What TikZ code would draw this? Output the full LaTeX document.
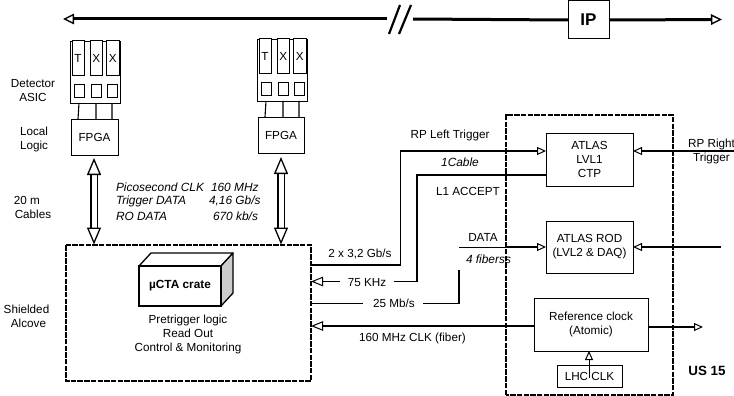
\documentclass[tikz,border=0pt]{standalone}
\usepackage{fontspec}
\setmainfont{Liberation Sans}
\usetikzlibrary{arrows.meta,calc}
\tikzset{
  box/.style={draw=black,line width=0.8pt,fill=white,inner sep=0pt,outer sep=0pt,align=center,font=\fontsize{11.7}{14}\selectfont},
  lbl/.style={inner sep=0pt,outer sep=0pt,align=center,font=\fontsize{11.7}{14}\selectfont},
  ital/.style={lbl,font=\fontsize{11.9}{14}\selectfont\itshape},
  bld/.style={lbl,font=\fontsize{13.4}{16}\selectfont\bfseries},
  wire/.style={draw=black,line width=1.4pt},
  otip/.style={-{Triangle[open,length=9pt,width=8pt,line width=1pt,fill=white]}},
  ltip/.style={-{Triangle[open,length=12pt,width=9.5pt,line width=1pt,fill=white]}},
  mainline/.style={draw=black,line width=3pt},
  bigtip/.style={-{Triangle[open,length=11pt,width=10.5pt,line width=1.4pt,fill=white]}},
  bigtipb/.style={{Triangle[open,length=11pt,width=10.5pt,line width=1.4pt,fill=white]}-},
  dashbox/.style={draw=black,line width=1.2pt,dash pattern=on 5.5pt off 1.2pt},
  dbl/.style={draw=black,line width=1.3pt,double=white,double distance=5pt,
    {Triangle[open,length=17pt,width=14pt,line width=1.3pt,fill=white]}-{Triangle[open,length=17pt,width=14pt,line width=1.3pt,fill=white]}},
  slash/.style={draw=black,line width=2.2pt}
}
\newcommand\bx[7][]{%
  \pgfmathsetmacro\cxx{(#3+#5)/2}\pgfmathsetmacro\cyy{(#4+#6)/2}%
  \pgfmathsetmacro\ww{abs(#5-#3)}\pgfmathsetmacro\hh{abs(#6-#4)}%
  \node[box,minimum width=\ww pt,minimum height=\hh pt,#1] (#2) at (\cxx,\cyy) {#7};}
\begin{document}
\begin{tikzpicture}[x=1pt,y=-1pt]
\useasboundingbox (0,0) rectangle (734,396);
% top line
\bx[line width=1pt,font=\fontsize{17}{19}\selectfont\bfseries]{ip}{568}{1}{609}{39}{IP}
\coordinate (topL) at (63,19);
\coordinate (topR) at (722,19.5);
\coordinate (brkL) at (387,19);
\coordinate (brkR) at (413,19);
\draw[mainline,bigtipb] (topL) -- (brkL);
\draw[mainline] (brkR) -- (ip.west);
\draw[mainline,bigtip] (ip.east) -- (topR);
\coordinate (s1a) at (389,34); \coordinate (s1b) at (400,5);
\coordinate (s2a) at (399,34); \coordinate (s2b) at (411,5);
\draw[slash] (s1a) -- (s1b);
\draw[slash] (s2a) -- (s2b);
% left detector
\bx{detL}{70}{41}{120}{103}{}
\bx[line width=1pt]{tL}{72}{41}{84}{76}{T}
\bx[line width=1pt]{xLa}{90.5}{41}{102}{76}{X}
\bx[line width=1pt]{xLb}{106.5}{41}{119}{76}{X}
\bx{aLa}{74}{84}{84}{97}{}
\bx{aLb}{91}{84}{101}{97}{}
\bx{aLc}{107}{84}{117}{97}{}
\bx{fpgaL}{71}{119}{118}{155}{FPGA}
\coordinate (d1a) at (79,103); \coordinate (d1b) at (78,119);
\coordinate (d2a) at (96,103); \coordinate (d2b) at (96,119);
\coordinate (d3a) at (112,103); \coordinate (d3b) at (112,119);
\draw[line width=1.1pt] (d1a) -- (d1b) (d2a) -- (d2b) (d3a) -- (d3b);
% right detector
\bx{detR}{257}{39}{307}{101}{}
\bx[line width=1pt]{tR}{259}{39}{271}{74}{T}
\bx[line width=1pt]{xRa}{277.5}{39}{289}{74}{X}
\bx[line width=1pt]{xRb}{293.5}{39}{306}{74}{X}
\bx{aRa}{261}{82}{271}{95}{}
\bx{aRb}{278}{82}{288}{95}{}
\bx{aRc}{294}{82}{304}{95}{}
\bx{fpgaR}{258}{117}{304}{153}{FPGA}
\coordinate (e1a) at (266,101); \coordinate (e1b) at (265,117);
\coordinate (e2a) at (283,101); \coordinate (e2b) at (283,117);
\coordinate (e3a) at (299,101); \coordinate (e3b) at (299,117);
\draw[line width=1.1pt] (e1a) -- (e1b) (e2a) -- (e2b) (e3a) -- (e3b);
% alcove
\bx[draw=none,fill=none]{alcove}{66}{245}{311}{381}{}
\draw[dashbox] (alcove.north west) rectangle (alcove.south east);
\coordinate (dLt) at (94,158); \coordinate (dLb) at (94,244.5);
\coordinate (dRt) at (281,157); \coordinate (dRb) at (281,244.5);
\draw[dbl] (dLt) -- (dLb);
\draw[dbl] (dRt) -- (dRb);
% crate
\coordinate (cr1) at (139,266); \coordinate (cr2) at (151,253); \coordinate (cr3) at (233,253);
\coordinate (cr4) at (221,266); \coordinate (cr5) at (233,293); \coordinate (cr6) at (221,306);
\draw[line width=1.3pt,fill=white,line join=round] (cr1) -- (cr2) -- (cr3) -- (cr4) -- cycle;
\draw[line width=1.3pt,fill=black!20,line join=round] (cr4) -- (cr3) -- (cr5) -- (cr6) -- cycle;
\bx[line width=1.3pt,font=\fontsize{11.8}{13}\selectfont\bfseries]{crate}{139}{266}{221}{306}{µCTA crate}
\node[lbl] (alctxt) at (188,334.5) {Pretrigger logic\\Read Out\\Control \& Monitoring};
% side labels
\node[lbl] (ldet) at (33,91) {Detector\\ASIC};
\node[lbl] (lloc) at (34,139.5) {Local\\Logic};
\node[lbl] (lcab) at (33,207) {\hspace*{-12pt}20 m\\Cables};
\node[lbl] (lshd) at (26.5,316) {Shielded\\\hspace*{4pt}Alcove};
% italics
\node[ital,anchor=west] (pico) at (116,187) {Picosecond CLK};
\node[ital,anchor=west] (picv) at (211,187) {160 MHz};
\node[ital,anchor=west] (trig) at (116,201) {Trigger DATA};
\node[ital,anchor=west] (trgv) at (209,201) {4,16 Gb/s};
\node[ital,anchor=west] (rod) at (116,216) {RO DATA};
\node[ital,anchor=west] (rodv) at (213,216) {670 kb/s};
% US15 dashed
\coordinate (usA) at (506,395); \coordinate (usB) at (506,115);
\coordinate (usC) at (673,115); \coordinate (usD) at (673,395);
\draw[dashbox] (usA) -- (usB) -- (usC) -- (usD) -- cycle;
% right boxes
\bx{ctp}{546}{133}{633}{186}{ATLAS\\LVL1\\CTP}
\bx{rodb}{546}{221}{633}{273}{ATLAS ROD\\(LVL2 \& DAQ)}
\bx{ref}{534}{298}{648}{351}{Reference clock\\(Atomic)}
\bx{lhc}{557}{365}{622}{387}{LHC CLK}
% RP left trigger
\coordinate (rpTop) at (400.5,151);
\coordinate (rpBot) at (400.5,265);
\draw[wire,otip] (alcove.east |- rpBot) -- (rpBot) -- (rpTop) -- (ctp.west |- rpTop);
\node[lbl] (trl) at (450,135) {RP Left Trigger};
\node[ital] (cab) at (460,162) {1Cable};
\node[lbl] (g32) at (360,254) {2 x 3,2 Gb/s};
% L1 accept
\coordinate (l1a) at (417,175);
\coordinate (l1b) at (417,281.5);
\coordinate (l1c) at (394,281.5);
\coordinate (l1d) at (340,281.5);
\draw[wire] (ctp.west |- l1a) -- (l1a) -- (l1b) -- (l1c);
\draw[wire,ltip] (l1d) -- (alcove.east |- l1d);
\node[lbl] (accl) at (468,191) {L1 ACCEPT};
\node[lbl] (khz) at (367,283) {75 KHz};
% 25 Mb/s and data
\coordinate (m25a) at (363,303);
\coordinate (m25b) at (423,303.5);
\coordinate (m25c) at (459,303.5);
\coordinate (m25d) at (459,270);
\coordinate (dat) at (459,247);
\draw[line width=1pt] (alcove.east |- m25a) -- (m25a);
\draw[wire] (m25b) -- (m25c) -- (m25d);
\draw[line width=0.8pt] (dat) -- (usA |- dat);
\draw[wire,otip] (usA |- dat) -- (rodb.west |- dat);
\node[lbl] (mbs) at (394,303.5) {25 Mb/s};
\node[lbl] (dtx) at (483,237) {DATA};
\node[ital] (fib) at (488.5,259) {4 fiberss};
% ROD and CTP input
\coordinate (rodIn) at (721,247);
\draw[wire,otip] (rodIn) -- (rodb.east |- rodIn);
\coordinate (rpIn) at (734,151);
\draw[wire,otip] (rpIn) -- (ctp.east |- rpIn);
\node[lbl] (trr) at (711.5,151.5) {RP Right\\Trigger};
% clock
\coordinate (clkY) at (400,326);
\draw[wire,ltip] (ref.west |- clkY) -- (alcove.east |- clkY);
\node[lbl] (clkt) at (412.5,338) {160 MHz CLK (fiber)};
\coordinate (clkO) at (703,327);
\draw[wire,otip] (ref.east |- clkO) -- (clkO);
\coordinate (lhcIn) at (589,378);
\draw[line width=1pt,otip] (lhcIn) -- (ref.south -| lhcIn);
\node[bld] (us) at (707,371) {US 15};
\end{tikzpicture}
\end{document}
